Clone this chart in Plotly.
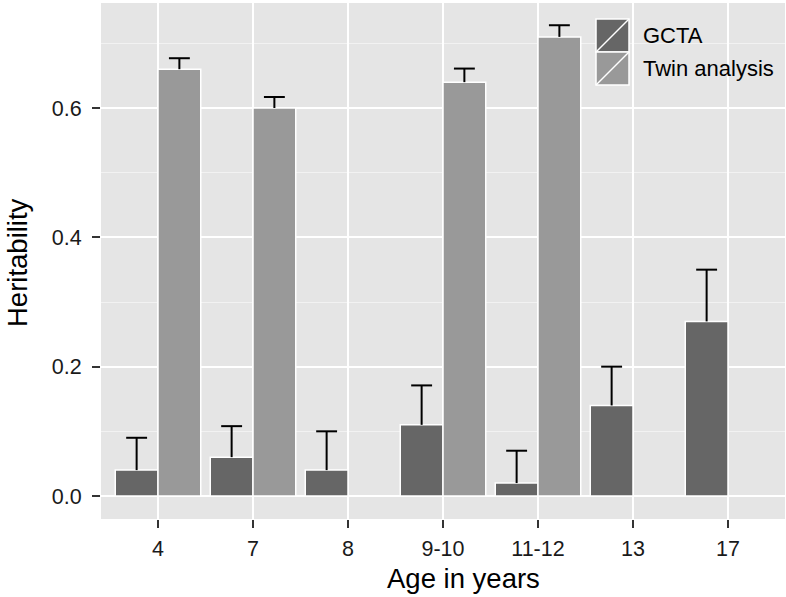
import plotly.graph_objects as go

ages = ["4", "7", "8", "9-10", "11-12", "13", "17"]
gcta = [0.04, 0.06, 0.04, 0.11, 0.02, 0.14, 0.27]
gcta_upper = [0.09, 0.108, 0.10, 0.171, 0.07, 0.20, 0.35]
twin = [0.66, 0.60, None, 0.64, 0.71, None, None]
twin_upper = [0.677, 0.617, None, 0.661, 0.728, None, None]
series_names = ["GCTA", "Twin analysis"]
y_ticks = [0.0, 0.2, 0.4, 0.6]

C_GCTA = "#666666"
C_TWIN = "#999999"
BAR_W = 0.45
CAP = 0.11

idx = list(range(len(ages)))
x_g = [i - BAR_W / 2 for i in idx]
x_t = [i + BAR_W / 2 for i in idx]

fig = go.Figure()
fig.add_trace(go.Bar(x=x_g, y=gcta, width=BAR_W, marker=dict(color=C_GCTA, line=dict(color="white", width=1.5)),
                     name=series_names[0], showlegend=False))
fig.add_trace(go.Bar(x=x_t, y=twin, width=BAR_W, marker=dict(color=C_TWIN, line=dict(color="white", width=1.5)),
                     name=series_names[1], showlegend=False))

ex, ey = [], []
for xs, vals, ups in [(x_g, gcta, gcta_upper), (x_t, twin, twin_upper)]:
    for x, v, u in zip(xs, vals, ups):
        if v is None:
            continue
        ex += [x, x, None, x - CAP, x + CAP, None]
        ey += [v, u, None, u, u, None]
fig.add_trace(go.Scatter(x=ex, y=ey, mode="lines", line=dict(color="black", width=2),
                         showlegend=False, hoverinfo="skip"))

L, R, T, B = 101, 785, 3, 519
def px(x): return (x - L) / (R - L)
def py(y): return (B - y) / (B - T)

# legend (manual, ggplot style keys)
keys = [(series_names[0], C_GCTA, 19, 52), (series_names[1], C_TWIN, 52, 85)]
for name, col, y0, y1 in keys:
    fig.add_shape(type="rect", xref="paper", yref="paper", x0=px(596), x1=px(629), y0=py(y1), y1=py(y0),
                  fillcolor=col, line=dict(color="white", width=1.5))
    fig.add_shape(type="line", xref="paper", yref="paper", x0=px(596), x1=px(629), y0=py(y1), y1=py(y0),
                  line=dict(color="white", width=1.5))
    fig.add_annotation(xref="paper", yref="paper", x=px(641), y=py((y0 + y1) / 2), text=name, showarrow=False,
                       xanchor="left", yanchor="middle", font=dict(size=22, color="black"))

# axis titles
fig.add_annotation(xref="paper", yref="paper", x=px(463), y=py(578), text="Age in years", showarrow=False,
                   xanchor="center", yanchor="middle", font=dict(size=27.5, color="black"))
fig.add_annotation(xref="paper", yref="paper", x=px(17), y=py(263), text="Heritability", showarrow=False,
                   textangle=-90, xanchor="center", yanchor="middle", font=dict(size=27.5, color="black"))

fig.update_layout(
    width=786, height=597,
    margin=dict(l=L, r=786 - R, t=T, b=597 - B, autoexpand=False),
    paper_bgcolor="white", plot_bgcolor="#E5E5E5",
    font=dict(family="Liberation Sans, Arial, sans-serif", color="black"),
    barmode="overlay",
    xaxis=dict(range=[-0.6, 6.6], tickvals=idx, ticktext=ages, showgrid=True, gridcolor="white", gridwidth=2,
               ticks="outside", ticklen=8, tickwidth=1.5, tickcolor="#333333", zeroline=False,
               tickfont=dict(size=21.5, color="#1a1a1a"), automargin=False, ticklabelstandoff=2),
    yaxis=dict(range=[-0.0356, 0.7624], tickvals=y_ticks, tickformat=".1f", showgrid=True, gridcolor="white",
               gridwidth=2, ticks="outside", ticklen=8, tickwidth=1.5, tickcolor="#333333", zeroline=False,
               minor=dict(dtick=0.1, tick0=0.1, showgrid=True, gridcolor="#F2F2F2", gridwidth=1),
               tickfont=dict(size=21.5, color="#1a1a1a"), automargin=False, ticklabelstandoff=6),
)

fig.write_html("out.html", config={"displayModeBar": False},
               post_script="document.body.style.margin='0';document.body.style.overflow='hidden';")
